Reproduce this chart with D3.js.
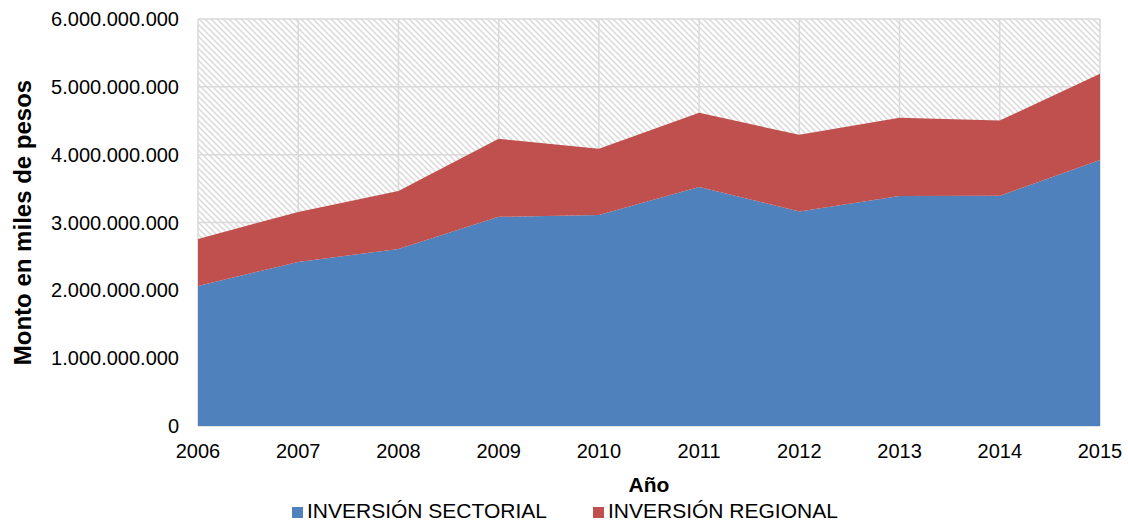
<head>
<meta charset="utf-8">
<style>
    body { margin: 0; background: #fff; }
    text { font-family: 'Liberation Sans', Arial, sans-serif; fill: #000; }
</style>
</head>
<body>
    <div id = 'chart'></div>
    <script src = 'https://cdn.jsdelivr.net/npm/d3@7/dist/d3.min.js'></script>
    <script>
        var height = 523,
            width = 1128;

        var years = [2006, 2007, 2008, 2009, 2010, 2011, 2012, 2013, 2014, 2015];
        // valores en miles de pesos
        var sectorial = [2065000000, 2419000000, 2611000000, 3083000000, 3112000000, 3525000000, 3164000000, 3392000000, 3395000000, 3923000000];
        var regional = [693000000, 737000000, 855000000, 1150000000, 974000000, 1092000000, 1128000000, 1151000000, 1107000000, 1269000000];
        var series = ['INVERSIÓN SECTORIAL', 'INVERSIÓN REGIONAL'];
        var yTicks = [0, 1000000000, 2000000000, 3000000000, 4000000000, 5000000000, 6000000000];

        var clr = d3.scaleOrdinal()
            .domain(series)
            .range(['#4f81bd', '#c0504d']);

        var margin = {left: 198, right: 28, top: 19, bottom: 97};

        var x = d3.scaleLinear()
            .domain([2006, 2015])
            .range([margin.left, width - margin.right]);

        var y = d3.scaleLinear()
            .domain([0, 6000000000])
            .range([height - margin.bottom, margin.top]);

        var rows = years.map(function(d, i){
            return {year: d, 'INVERSIÓN SECTORIAL': sectorial[i], 'INVERSIÓN REGIONAL': regional[i]};
        });

        var stacked = d3.stack().keys(series)(rows);

        var svg = d3.select('#chart')
            .append('svg')
            .attr('width', width)
            .attr('height', height);

        // trama de fondo (diagonal)
        var pat = svg.append('defs')
            .append('pattern')
            .attr('id', 'hatch')
            .attr('patternUnits', 'userSpaceOnUse')
            .attr('width', 6)
            .attr('height', 6);
        pat.append('rect').attr('width', 6).attr('height', 6).attr('fill', '#fff');
        pat.append('path')
            .attr('d', 'M0,0 L6,6 M-3,3 L3,9 M3,-3 L9,3')
            .attr('stroke', '#d9d9d9')
            .attr('stroke-width', 1.5);

        svg.append('rect')
            .attr('x', x(2006))
            .attr('y', y(6000000000))
            .attr('width', x(2015) - x(2006))
            .attr('height', y(0) - y(6000000000))
            .attr('fill', 'url(#hatch)');

        // rejilla
        svg.append('g')
            .selectAll('line')
            .data(yTicks)
            .enter().append('line')
            .attr('x1', x(2006))
            .attr('x2', x(2015))
            .attr('y1', function(d){ return y(d); })
            .attr('y2', function(d){ return y(d); })
            .attr('stroke', '#d9d9d9')
            .attr('stroke-width', 1.5);

        svg.append('g')
            .selectAll('line')
            .data(years)
            .enter().append('line')
            .attr('x1', function(d){ return x(d); })
            .attr('x2', function(d){ return x(d); })
            .attr('y1', y(0))
            .attr('y2', y(6000000000))
            .attr('stroke', '#d9d9d9')
            .attr('stroke-width', 1.5);

        var area = d3.area()
            .x(function(d){ return x(d.data.year); })
            .y0(function(d){ return y(d[0]); })
            .y1(function(d){ return y(d[1]); });

        svg.append('g')
            .selectAll('path')
            .data(stacked)
            .enter().append('path')
            .attr('d', area)
            .attr('fill', function(d){ return clr(d.key); });

        // ejes
        var fmt = function(d){ return d3.format(',')(d).replace(/,/g, '.'); };

        svg.append('g')
            .selectAll('text')
            .data(yTicks)
            .enter().append('text')
            .attr('x', 179)
            .attr('y', function(d){ return y(d); })
            .attr('dy', '0.35em')
            .attr('text-anchor', 'end')
            .style('font-size', '20px')
            .text(fmt);

        svg.append('g')
            .selectAll('text')
            .data(years)
            .enter().append('text')
            .attr('x', function(d){ return x(d); })
            .attr('y', 458)
            .attr('text-anchor', 'middle')
            .style('font-size', '20px')
            .text(function(d){ return d; });

        svg.append('text')
            .attr('x', (x(2006) + x(2015)) / 2)
            .attr('y', 492)
            .attr('text-anchor', 'middle')
            .style('font-size', '21px')
            .style('font-weight', 'bold')
            .text('Año');

        svg.append('text')
            .attr('transform', 'translate(31,' + ((y(0) + y(6000000000)) / 2) + ') rotate(-90)')
            .attr('text-anchor', 'middle')
            .style('font-size', '24px')
            .style('font-weight', 'bold')
            .text('Monto en miles de pesos');

        // leyenda
        var legX = [292, 593];
        var leg = svg.append('g')
            .selectAll('g')
            .data(series)
            .enter().append('g')
            .attr('transform', function(d, i){ return 'translate(' + legX[i] + ',507)'; });

        leg.append('rect')
            .attr('width', 11)
            .attr('height', 11)
            .attr('fill', function(d){ return clr(d); });

        leg.append('text')
            .attr('x', 15)
            .attr('y', 11)
            .style('font-size', '21px')
            .text(function(d){ return d; });
    </script>
</body>
